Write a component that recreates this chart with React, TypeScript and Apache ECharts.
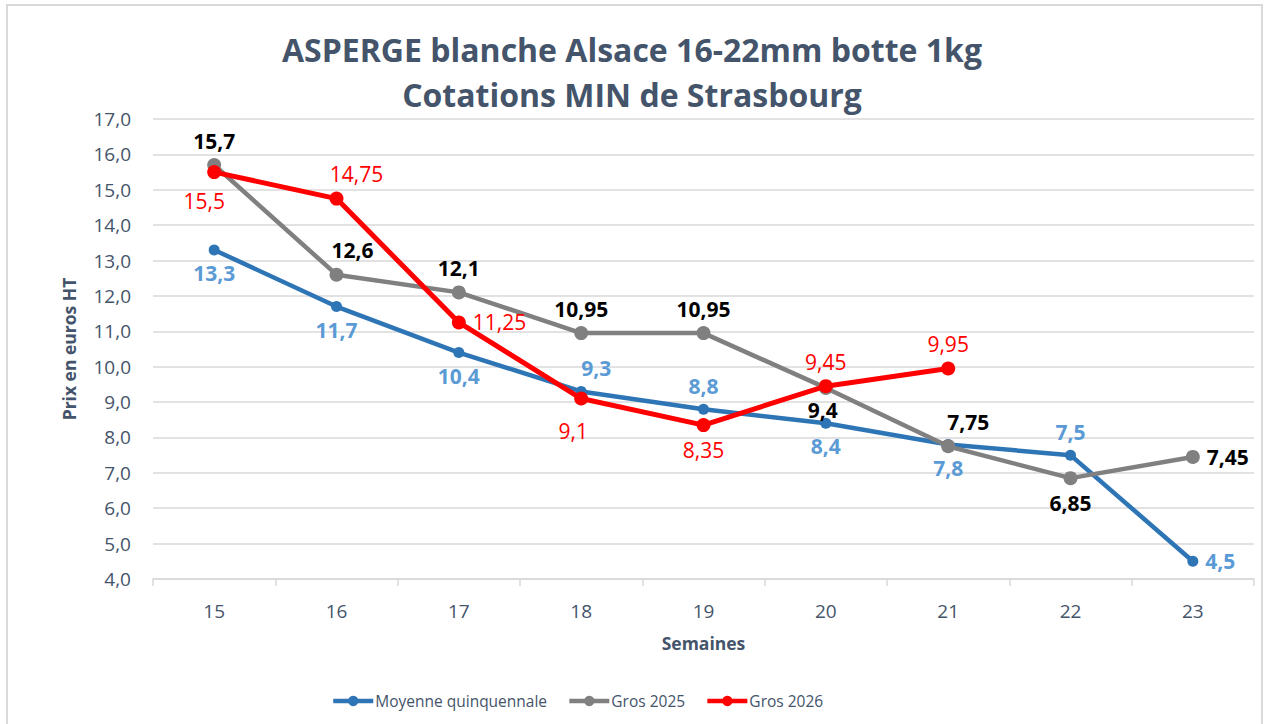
import React, { useEffect, useRef } from 'react';
import * as echarts from 'echarts';

const weeks = ['15', '16', '17', '18', '19', '20', '21', '22', '23'];
const moyenne = [13.3, 11.7, 10.4, 9.3, 8.8, 8.4, 7.8, 7.5, 4.5];
const gros2025 = [15.7, 12.6, 12.1, 10.95, 10.95, 9.4, 7.75, 6.85, 7.45];
const gros2026: (number | null)[] = [15.5, 14.75, 11.25, 9.1, 8.35, 9.45, 9.95, null, null];

type LP = { p: string; o?: [number, number] };
const moyennePos: LP[] = [
  { p: 'bottom' }, { p: 'bottom' }, { p: 'bottom' }, { p: 'top', o: [15, 0] }, { p: 'top' },
  { p: 'bottom' }, { p: 'bottom' }, { p: 'top' }, { p: 'right' },
];
const pos2025: LP[] = [
  { p: 'top' }, { p: 'top', o: [16, 0] }, { p: 'top' }, { p: 'top' }, { p: 'top' },
  { p: 'bottom', o: [-3, -2] }, { p: 'top', o: [20, 0] }, { p: 'bottom' }, { p: 'right' },
];
const pos2026: LP[] = [
  { p: 'bottom', o: [-10, 4] }, { p: 'top', o: [20, 0] }, { p: 'right' }, { p: 'bottom', o: [-8, 8] }, { p: 'bottom' },
  { p: 'top' }, { p: 'top' }, { p: 'top' }, { p: 'top' },
];

const TXT = '#44546A';
const FONT = '"Open Sans", sans-serif';
const fmt = (v: any) => String(v).replace('.', ',');

function build(values: (number | null)[], positions: LP[]) {
  return values.map((v, i) => ({
    value: v,
    label: { position: positions[i].p as any, offset: positions[i].o || [0, 0] },
  }));
}

export default function App() {
  const ref = useRef<HTMLDivElement>(null);
  useEffect(() => {
    document.body.style.margin = '0';
    const chart = echarts.init(ref.current!, null, { renderer: 'svg' });
    const labelBase = { show: true, fontFamily: FONT, fontSize: 21, distance: 7, formatter: (p: any) => fmt(p.value) };
    chart.setOption({
      animation: false,
      backgroundColor: '#fff',
      textStyle: { fontFamily: FONT },
      title: {
        text: 'ASPERGE blanche Alsace 16-22mm botte 1kg\nCotations MIN de Strasbourg',
        left: 'center',
        top: 22,
        textStyle: { fontFamily: FONT, fontSize: 32, fontWeight: 'bold', color: TXT, lineHeight: 45 },
      },
      graphic: [
        { type: 'rect', shape: { x: 7, y: 5, width: 1255, height: 730 }, style: { fill: 'none', stroke: '#D9D9D9', lineWidth: 2 }, silent: true },
      ],
      legend: {
        bottom: 10,
        left: 326,
        itemWidth: 40,
        itemHeight: 13,
        itemGap: 20,
        lineStyle: { width: 4.5 },
        textStyle: { fontFamily: FONT, fontSize: 15.5, color: TXT, padding: [0, 0, 0, -3] },
        data: ['Moyenne quinquennale', 'Gros 2025', 'Gros 2026'],
      },
      grid: { left: 153, right: 10, top: 119, bottom: 145 },
      xAxis: {
        type: 'category',
        data: weeks,
        boundaryGap: true,
        name: 'Semaines',
        nameLocation: 'middle',
        nameGap: 55,
        nameTextStyle: { fontFamily: FONT, fontSize: 17.5, fontWeight: 'bold', color: TXT },
        axisLine: { lineStyle: { color: '#D9D9D9', width: 1.5 } },
        axisTick: { show: true, length: 7, lineStyle: { color: '#D9D9D9', width: 1.5 } },
        axisLabel: { fontFamily: FONT, fontSize: 19, color: TXT, margin: 22 },
      },
      yAxis: {
        type: 'value',
        min: 4,
        max: 17,
        interval: 1,
        name: 'Prix en euros HT',
        nameLocation: 'middle',
        nameGap: 75,
        nameTextStyle: { fontFamily: FONT, fontSize: 17.5, fontWeight: 'bold', color: TXT },
        axisLine: { show: false },
        axisTick: { show: false },
        splitLine: { lineStyle: { color: '#D9D9D9', width: 1.5 } },
        axisLabel: { fontFamily: FONT, fontSize: 19, color: TXT, margin: 22, formatter: (v: number) => v.toFixed(1).replace('.', ',') },
      },
      series: [
        {
          name: 'Moyenne quinquennale',
          type: 'line',
          data: build(moyenne, moyennePos),
          symbol: 'circle',
          symbolSize: 11,
          z: 2,
          itemStyle: { color: '#2E75B6' },
          lineStyle: { color: '#2E75B6', width: 4.5 },
          label: { ...labelBase, color: '#5B9BD5', fontWeight: 'bold' },
        },
        {
          name: 'Gros 2025',
          type: 'line',
          data: build(gros2025, pos2025),
          symbol: 'circle',
          symbolSize: 14,
          z: 3,
          itemStyle: { color: '#808080' },
          lineStyle: { color: '#808080', width: 4.5 },
          label: { ...labelBase, color: '#000000', fontWeight: 'bold' },
        },
        {
          name: 'Gros 2026',
          type: 'line',
          data: build(gros2026, pos2026),
          symbol: 'circle',
          symbolSize: 14,
          z: 4,
          itemStyle: { color: '#FF0000' },
          lineStyle: { color: '#FF0000', width: 5 },
          label: { ...labelBase, color: '#FF0000', fontWeight: 'normal' },
        },
      ],
    });
    return () => chart.dispose();
  }, []);
  return <div ref={ref} style={{ width: 1264, height: 724 }} />;
}
